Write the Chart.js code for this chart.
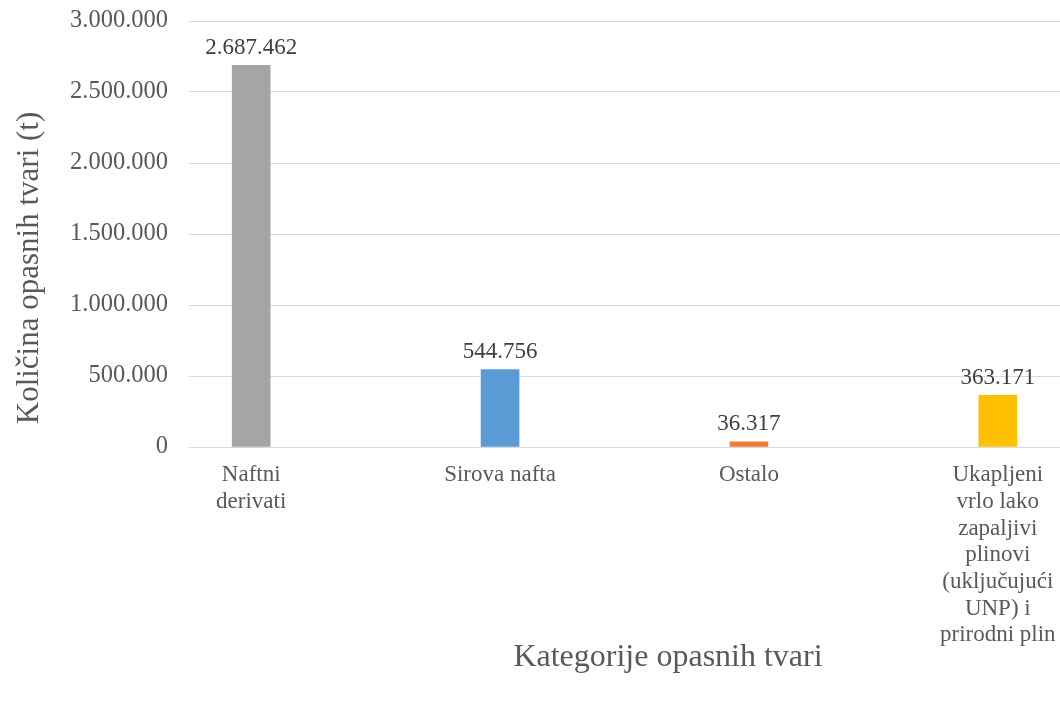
<!DOCTYPE html>
<html lang="hr">
<head>
  <meta charset="UTF-8">
  <title>Kategorije opasnih tvari</title>
  <script src="https://cdn.jsdelivr.net/npm/chart.js"></script>
  <style>
    html, body {
      margin: 0;
      background: white;
    }
    #wrap {
      width: 1060px;
      height: 702px;
    }
  </style>
</head>
<body>
  <div id="wrap">
    <canvas id="chart"></canvas>
  </div>

  <script>
    const categories = [
      ["Naftni", "derivati"],
      ["Sirova nafta"],
      ["Ostalo"],
      ["Ukapljeni", "vrlo lako", "zapaljivi", "plinovi", "(uključujući", "UNP) i", "prirodni plin"]
    ];
    const values = [2687462, 544756, 36317, 363171];
    const barColors = ["#A5A5A5", "#5B9BD5", "#ED7D31", "#FFC000"];
    const yTicks = [0, 500000, 1000000, 1500000, 2000000, 2500000, 3000000];
    const yTitle = "Količina opasnih tvari (t)";
    const xTitle = "Kategorije opasnih tvari";

    const serif = "'Liberation Serif', 'Times New Roman', serif";

    function fmt(n) {
      return String(Math.round(n)).replace(/\B(?=(\d{3})+(?!\d))/g, ".");
    }

    // value labels above bars + both axis titles (Excel doesn't centre them on the plot)
    const labelsPlugin = {
      id: "labels",
      afterDatasetsDraw(chart) {
        const ctx = chart.ctx;
        const meta = chart.getDatasetMeta(0);
        ctx.save();
        ctx.font = "23px " + serif;
        ctx.fillStyle = "#404040";
        ctx.textAlign = "center";
        ctx.textBaseline = "bottom";
        meta.data.forEach((bar, i) => {
          ctx.fillText(fmt(values[i]), bar.x, bar.y - 6);
        });
        ctx.fillStyle = "#595959";
        ctx.textBaseline = "middle";
        ctx.font = "32px " + serif;
        ctx.fillText(xTitle, 668, 658);
        ctx.translate(30, 268);
        ctx.rotate(-Math.PI / 2);
        ctx.font = "31px " + serif;
        ctx.fillText(yTitle, 0, 0);
        ctx.restore();
      }
    };

    new Chart(document.getElementById("chart"), {
      type: "bar",
      data: {
        datasets: [{
          data: values.map((v, i) => ({ x: i, y: v })),
          backgroundColor: barColors,
          barThickness: 38
        }]
      },
      plugins: [labelsPlugin],
      options: {
        animation: false,
        responsive: true,
        maintainAspectRatio: false,
        layout: { padding: { top: 21, right: 0, left: 0, bottom: 0 } },
        plugins: {
          legend: { display: false },
          tooltip: { enabled: false }
        },
        scales: {
          x: {
            type: "linear",
            offset: false,
            min: -0.25,
            max: 3.25,
            afterBuildTicks(scale) {
              scale.ticks = categories.map((c, i) => ({ value: i }));
            },
            afterFit(scale) {
              scale.height = 255;
              scale.paddingLeft = 0;
              scale.paddingRight = 0;
            },
            grid: { display: false, offset: false },
            border: { display: false },
            ticks: {
              autoSkip: false,
              maxRotation: 0,
              padding: 7,
              color: "#595959",
              font: { family: serif, size: 23, lineHeight: 1.16 },
              callback: (v) => categories[v] || ""
            }
          },
          y: {
            min: 0,
            max: 3000000,
            afterBuildTicks(scale) {
              scale.ticks = yTicks.map(v => ({ value: v }));
            },
            afterFit(scale) {
              scale.width = 189;
              scale.paddingTop = 0;
              scale.paddingBottom = 0;
            },
            grid: { color: "#D9D9D9", drawTicks: false, lineWidth: 1 },
            border: { display: false },
            ticks: {
              padding: 21,
              color: "#595959",
              font: { family: serif, size: 24.5 },
              callback: (v) => fmt(v)
            }
          }
        }
      }
    });
  </script>
</body>
</html>
